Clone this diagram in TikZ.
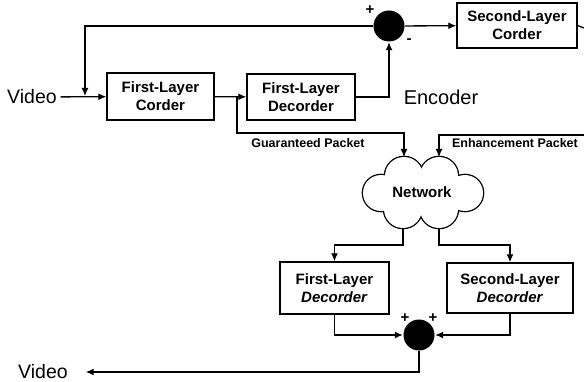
\documentclass[tikz,border=0pt]{standalone}
\usepackage{fontspec}
\setmainfont{Liberation Sans}
\usetikzlibrary{arrows.meta, positioning}

\begin{document}
\begin{tikzpicture}[x=1pt, y=-1pt, line width=1.3pt,
    blk/.style={draw, line width=1.4pt, align=center, inner sep=0pt, font=\bfseries\fontsize{15}{18}\selectfont},
    sum/.style={circle, fill=black, minimum size=31pt, inner sep=0pt},
    arr/.style={-{Latex[length=8pt, width=7pt]}},
    sgn/.style={font=\bfseries\fontsize{15}{15}\selectfont, inner sep=0pt},
    pkt/.style={font=\bfseries\fontsize{12.5}{13}\selectfont, inner sep=0pt}]
    \useasboundingbox (0,0) rectangle (584,382);

    % Encoder blocks
    \node[blk, minimum width=107pt, minimum height=47pt] (flc) at (160.5,96.5) {First-Layer\\Corder};
    \node[blk, minimum width=108pt, minimum height=46pt] (fld) at (301,97) {First-Layer\\Decorder};
    \node[sum] (sum1) at (389,26) {};
    \node[blk, minimum width=120pt, minimum height=45pt] (slc) at (517,25.5) {Second-Layer\\Corder};
    \node[font=\fontsize{20}{20}\selectfont] (enc) at (441,97) {Encoder};
    \node[font=\fontsize{19.5}{20}\selectfont] (vin) at (32,97) {Video};
    \node[sgn] at (370,10) {+};
    \node[sgn] at (409,41) {-};

    % Network cloud
    \foreach \cx/\cy/\r in {404/176/19, 439/176/19, 381/193/18, 465/193/18, 403/209/19, 439/209/19}
        \draw[line width=2.6pt] (\cx,\cy) circle (\r pt);
    \foreach \cx/\cy/\r in {404/176/19, 439/176/19, 381/193/18, 465/193/18, 403/209/19, 439/209/19}
        \fill[white] (\cx,\cy) circle (\r pt);
    \fill[white] (381,176) rectangle (465,209);
    \node[font=\bfseries\fontsize{15}{15}\selectfont] (net) at (422,192) {Network};
    \coordinate (nettl) at (404,157);
    \coordinate (nettr) at (439,157);
    \coordinate (netbl) at (403,228);
    \coordinate (netbr) at (439,228);

    % Decoder blocks
    \node[blk, minimum width=109pt, minimum height=52pt] (fld2) at (334.5,288) {First-Layer\\\textit{Decorder}};
    \node[blk, minimum width=126pt, minimum height=50pt] (sld2) at (510,288) {Second-Layer\\\textit{Decorder}};
    \node[sum] (sum2) at (419,335) {};
    \node[sgn] at (405,318) {+};
    \node[sgn] at (433,318) {+};
    \node[font=\fontsize{19.5}{20}\selectfont] (vout) at (43,372) {Video};

    % Wires
    \coordinate (fb) at (85,96);
    \coordinate (br) at (237,97);
    \coordinate (edge1) at (584,28);
    \coordinate (edge2) at (584,135);
    \draw[arr] (vin) -- (flc);
    \draw[arr] (sum1.west) -| (fb);
    \draw[arr] (flc) -- (fld);
    \draw[arr] (fld.east) -| (sum1.south);
    \draw[arr] (sum1) -- (slc);
    \draw (slc.east) -- (edge1);
    \draw[arr] (br) -- ++(0,36) -| (nettl);
    \draw[arr] (edge2) -| (nettr);
    \node[pkt] at (308,143) {Guaranteed Packet};
    \node[pkt] at (515,143) {Enhancement Packet};

    \draw[arr] (netbl) -- ++(0,17) -| (fld2.north);
    \draw[arr] (netbr) -- ++(0,17) -| (sld2.north);
    \draw[arr] (fld2.south) |- (sum2.west);
    \draw[arr] (sld2.south) |- (sum2.east);
    \draw[arr] (sum2.south) |- ([xshift=14pt]vout.east);
\end{tikzpicture}
\end{document}
